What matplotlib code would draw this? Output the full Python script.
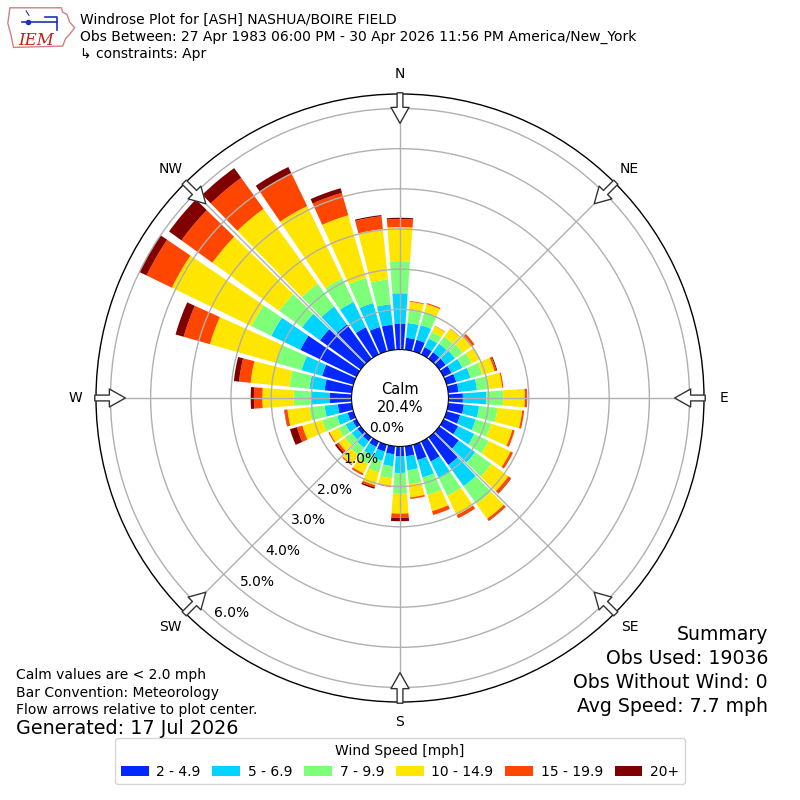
"""Windrose for ASH (Nashua/Boire Field), April observations."""

import numpy as np
import matplotlib
matplotlib.use("Agg")
import matplotlib.pyplot as plt
from matplotlib.patches import Patch, Polygon

# wind-from directions (deg), 10 degree bins
directions = np.arange(0, 360, 10)

# frequency (%) in each speed bin, per direction
spd_2_5 = [0.65, 0.30, 0.30, 0.20, 0.20, 0.20, 0.22, 0.25, 0.26, 0.36,
           0.39, 0.35, 0.40, 0.60, 0.85, 0.55, 0.40, 0.25, 0.25, 0.20,
           0.18, 0.15, 0.12, 0.10, 0.10, 0.15, 0.35, 0.55, 0.68, 0.81,
           1.55, 1.25, 1.05, 0.75, 0.63, 0.63]
spd_5_7 = [0.75, 0.37, 0.38, 0.24, 0.26, 0.28, 0.30, 0.37, 0.46, 0.58,
           0.38, 0.40, 0.45, 0.50, 0.65, 0.45, 0.45, 0.35, 0.41, 0.30,
           0.24, 0.23, 0.20, 0.18, 0.20, 0.27, 0.33, 0.47, 0.38, 0.53,
           0.80, 0.55, 0.55, 0.70, 0.62, 0.51]
spd_7_10 = [0.80, 0.31, 0.34, 0.18, 0.22, 0.24, 0.26, 0.30, 0.30, 0.42,
            0.46, 0.40, 0.40, 0.50, 0.55, 0.50, 0.45, 0.35, 0.52, 0.30,
            0.30, 0.24, 0.23, 0.20, 0.20, 0.39, 0.38, 0.42, 0.50, 0.66,
            0.55, 0.70, 0.70, 0.65, 0.65, 0.62]
spd_10_15 = [0.85, 0.22, 0.20, 0.16, 0.24, 0.26, 0.22, 0.32, 0.33, 0.54,
             0.62, 0.55, 0.60, 0.52, 0.45, 0.53, 0.42, 0.33, 0.49, 0.20,
             0.33, 0.26, 0.28, 0.20, 0.24, 0.51, 0.55, 0.78, 0.97, 1.71,
             2.20, 2.05, 2.30, 2.00, 1.62, 1.26]
spd_15_20 = [0.20, 0.02, 0.03, 0.01, 0.01, 0.10, 0.01, 0.05, 0.03, 0.05,
             0.05, 0.06, 0.07, 0.08, 0.06, 0.09, 0.10, 0.04, 0.11, 0.02,
             0.05, 0.05, 0.03, 0.06, 0.03, 0.14, 0.07, 0.21, 0.29, 0.68,
             0.70, 0.95, 0.95, 0.90, 0.58, 0.32]
spd_20p = [0.03, 0.00, 0.00, 0.00, 0.00, 0.00, 0.00, 0.02, 0.00, 0.01,
           0.00, 0.00, 0.00, 0.01, 0.01, 0.00, 0.00, 0.00, 0.08, 0.00,
           0.04, 0.00, 0.00, 0.05, 0.00, 0.18, 0.01, 0.08, 0.13, 0.21,
           0.20, 0.38, 0.30, 0.18, 0.12, 0.03]

speed_labels = ["2 - 4.9", "5 - 6.9", "7 - 9.9", "10 - 14.9", "15 - 19.9", "20+"]
speed_colors = ["#0028ff", "#00d4ff", "#7dff7a", "#ffe600", "#ff4600", "#800000"]

calm_pct = 20.4
rticks = [0, 1, 2, 3, 4, 5, 6]
compass = ["N", "NE", "E", "SE", "S", "SW", "W", "NW"]

title_lines = [
    "Windrose Plot for [ASH] NASHUA/BOIRE FIELD",
    "Obs Between: 27 Apr 1983 06:00 PM - 30 Apr 2026 11:56 PM America/New_York",
    "\u21b3 constraints: Apr",
]
summary_lines = ["Summary", "Obs Used: 19036", "Obs Without Wind: 0",
                 "Avg Speed: 7.7 mph"]
note_lines = ["Calm values are < 2.0 mph", "Bar Convention: Meteorology",
              "Flow arrows relative to plot center."]

fig = plt.figure(figsize=(8, 8), dpi=100)
ax = fig.add_axes([0.12, 0.1225, 0.76, 0.76], projection="polar")
ax.set_theta_zero_location("N")
ax.set_theta_direction(-1)

rmax = 6.36
ax.set_ylim(0, rmax)
ax.set_rorigin(-1.206)

theta = np.deg2rad(directions)
width = np.deg2rad(8.4)
bottom = np.zeros(len(directions))
for vals, color in zip([spd_2_5, spd_5_7, spd_7_10, spd_10_15, spd_15_20, spd_20p],
                       speed_colors):
    vals = np.asarray(vals)
    ax.bar(theta, vals, width=width, bottom=bottom, color=color,
           linewidth=0, align="center")
    bottom += vals

# grid
ax.set_xticks(np.deg2rad(np.arange(0, 360, 45)))
ax.set_xticklabels([])
ax.set_yticks(rticks[1:])
ax.set_yticklabels([])
ax.tick_params(length=0)
ax.grid(True, color="#b0b0b0", linewidth=1.0)
ax.spines["polar"].set_linewidth(1.0)

# radial labels
for r in rticks:
    ax.text(np.deg2rad(220), r, f"{r:.1f}%", ha="left", va="bottom",
            fontsize=10, zorder=5)

# compass labels and flow arrows
for i, name in enumerate(compass):
    ang = np.deg2rad(i * 45)
    ax.text(ang, 6.87, name, ha="center", va="center", fontsize=10,
            clip_on=False)
    ax.annotate("", xy=(ang, 5.63), xytext=(ang, 6.39),
                arrowprops=dict(arrowstyle="simple,head_length=1.15,"
                                "head_width=1.3,tail_width=0.42",
                                fc="white", ec="#333333", lw=1.0,
                                shrinkA=0, shrinkB=0),
                annotation_clip=False, zorder=6)

ax.text(0.5, 0.5, f"Calm\n{calm_pct:.1f}%", transform=ax.transAxes,
        ha="center", va="center", fontsize=10.5, linespacing=1.25)

# header
for i, line in enumerate(title_lines):
    fig.text(0.1, 1 - (20 + 17 * i) / 800, line, ha="left", va="center",
             fontsize=10)

# logo
lax = fig.add_axes([0.008, 0.938, 0.088, 0.055])
lax.set_xlim(0, 1)
lax.set_ylim(0, 1)
lax.axis("off")
iowa = [(0.05, 0.95), (0.78, 0.95), (0.80, 0.85), (0.86, 0.80), (0.90, 0.62),
        (0.97, 0.50), (0.90, 0.35), (0.84, 0.25), (0.80, 0.08), (0.10, 0.05),
        (0.07, 0.30), (0.02, 0.60)]
lax.add_patch(Polygon(iowa, closed=True, fill=False, ec="#d08080", lw=1.0))
lax.plot([0.22, 0.72], [0.62, 0.62], color="#2030c0", lw=1.2)
lax.plot([0.55, 0.72, 0.72], [0.75, 0.75, 0.45], color="#2030c0", lw=1.2)
lax.plot([0.3], [0.62], "o", color="#2030c0", ms=3)
lax.plot([0.28, 0.32], [0.88, 0.78], color="#2030c0", lw=0.8)
lax.text(0.42, 0.2, "IEM", color="#c02020", fontsize=12, ha="center",
         va="center", family="DejaVu Serif", style="italic")

# summary block
for i, line in enumerate(summary_lines):
    fig.text(0.96, 1 - (635 + 24 * i) / 800, line, ha="right", va="center",
             fontsize=13.6)

for i, line in enumerate(note_lines):
    fig.text(0.02, 1 - (675 + 17.5 * i) / 800, line, ha="left", va="center",
             fontsize=10)
fig.text(0.02, 1 - 729 / 800, "Generated: 17 Jul 2026", ha="left",
         va="center", fontsize=13.8)

handles = [Patch(facecolor=c, edgecolor="none") for c in speed_colors]
fig.legend(handles, speed_labels, loc="lower center", ncol=6,
           bbox_to_anchor=(0.5, 0.011), title="Wind Speed [mph]",
           fontsize=10, title_fontsize=10, handlelength=2.0,
           handleheight=0.75, handletextpad=0.55, columnspacing=0.85)

fig.savefig("out.png", dpi=100)
